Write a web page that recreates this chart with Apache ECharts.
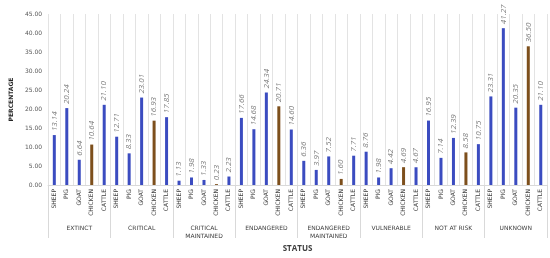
<!DOCTYPE html>
<html>
<head>
<meta charset="utf-8">
<script src="https://cdn.jsdelivr.net/npm/echarts@6/dist/echarts.min.js"></script>
<style>
	html, body { margin: 0; padding: 0; background: #fff; }
	#chart { width: 550px; height: 258px; }
</style>
</head>
<body>
<div id="chart"></div>
<script>
	// 物种 / 状态分组
	var species = ['SHEEP', 'PIG', 'GOAT', 'CHICKEN', 'CATTLE'];
	var groups = ['EXTINCT', 'CRITICAL', 'CRITICAL\nMAINTAINED', 'ENDANGERED', 'ENDANGERED\nMAINTAINED', 'VULNERABLE', 'NOT AT RISK', 'UNKNOWN'];

	// 每组数值 (sheep, pig, goat, chicken, cattle)
	var extinct = [13.14, 20.24, 6.64, 10.64, 21.10];
	var critical = [12.71, 8.33, 23.01, 16.93, 17.85];
	var criticalMaintained = [1.13, 1.98, 1.33, 0.23, 2.23];
	var endangered = [17.66, 14.68, 24.34, 20.71, 14.60];
	var endangeredMaintained = [6.36, 3.97, 7.52, 1.60, 7.71];
	var vulnerable = [8.76, 1.98, 4.42, 4.69, 4.67];
	var notAtRisk = [16.95, 7.14, 12.39, 8.58, 10.75];
	var unknown = [23.31, 41.27, 20.35, 36.50, 21.10];

	var yTicks = [0, 45, 5];

	var allGroups = [extinct, critical, criticalMaintained, endangered, endangeredMaintained, vulnerable, notAtRisk, unknown];

	var cats = [];
	var barData = [];
	for (var g = 0; g < allGroups.length; g++) {
		for (var s = 0; s < species.length; s++) {
			cats.push(species[s]);
			barData.push({
				value: allGroups[g][s],
				itemStyle: { color: species[s] == 'CHICKEN' ? '#7d4f1c' : '#3b4cc0' }
			});
		}
	}

	var chart = echarts.init(document.getElementById('chart'));
	var option = {
		animation: false,
		grid: { left: 36, right: 3, top: 14, bottom: 71 },
		xAxis: [{
			type: 'category',
			data: cats,
			axisLine: { show: true, lineStyle: { color: '#d9d9d9' } },
			axisTick: { show: false },
			splitLine: { show: true, lineStyle: { color: '#e3e3e3', width: 1 } },
			axisLabel: {
				interval: 0,
				rotate: 90,
				fontSize: 6,
				color: '#404040',
				fontFamily: 'DejaVu Sans',
				margin: 4
			}
		}, {
			type: 'category',
			data: groups,
			position: 'bottom',
			axisLine: { show: false },
			axisTick: { show: true, length: 53, lineStyle: { color: '#d9d9d9' } },
			axisLabel: {
				interval: 0,
				fontSize: 6,
				color: '#404040',
				fontFamily: 'DejaVu Sans',
				margin: 39,
				lineHeight: 8,
				verticalAlign: 'top'
			},
			name: 'STATUS',
			nameLocation: 'middle',
			nameGap: 60,
			nameTextStyle: { fontSize: 8, fontWeight: 'bold', color: '#404040', fontFamily: 'Open Sans' }
		}],
		yAxis: {
			type: 'value',
			min: yTicks[0],
			max: yTicks[1],
			interval: yTicks[2],
			axisLine: { show: false },
			axisTick: { show: false },
			splitLine: { show: false },
			axisLabel: {
				fontSize: 6,
				color: '#595959',
				fontFamily: 'DejaVu Sans',
				margin: 6,
				formatter: function(v) { return v.toFixed(2); }
			},
			name: 'PERCENTAGE',
			nameLocation: 'middle',
			nameGap: 22,
			nameTextStyle: { fontSize: 6, fontWeight: 'bold', color: '#262626', fontFamily: 'DejaVu Sans' }
		},
		series: [{
			type: 'bar',
			xAxisIndex: 0,
			data: barData,
			barWidth: 3,
			label: {
				show: true,
				position: 'top',
				rotate: 90,
				align: 'left',
				verticalAlign: 'middle',
				distance: 4,
				fontSize: 8,
				fontStyle: 'italic',
				color: '#7f7f7f',
				fontFamily: 'Open Sans',
				formatter: function(p) { return p.value.toFixed(2); }
			}
		}]
	};
	chart.setOption(option);
</script>
</body>
</html>
